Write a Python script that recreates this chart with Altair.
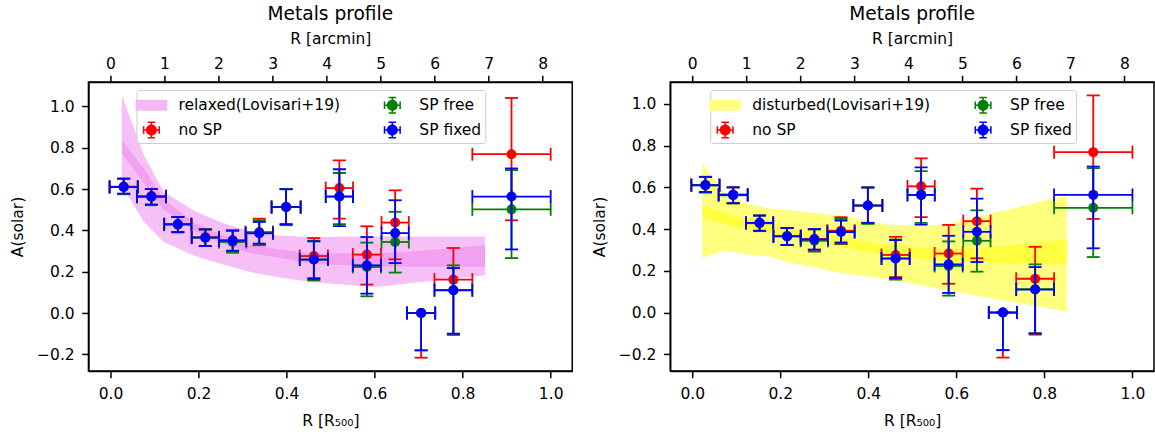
import altair as alt
import pandas as pd

# ---------------- data ----------------
# radial bins in R500 (centre and half-width)
r_mid = [0.030, 0.093, 0.153, 0.2155, 0.2775, 0.338, 0.399, 0.462, 0.520, 0.5825, 0.6467, 0.7057, 0.779, 0.911]
r_err = [0.032, 0.033, 0.031, 0.031, 0.031, 0.031, 0.033, 0.032, 0.031, 0.032, 0.031, 0.032, 0.043, 0.089]

# no SP (red)
nosp_val = [0.612, 0.566, 0.430, 0.367, 0.352, 0.392, 0.513, 0.276, 0.605, 0.283, 0.438, 0.000, 0.162, 0.769]
nosp_lo = [0.577, 0.525, 0.392, 0.324, 0.300, 0.328, 0.430, 0.170, 0.457, 0.138, 0.260, -0.216, -0.106, 0.449]
nosp_hi = [0.650, 0.600, 0.465, 0.405, 0.400, 0.457, 0.600, 0.363, 0.739, 0.420, 0.594, 0.000, 0.315, 1.041]

# SP free (green)
free_val = [0.610, 0.562, 0.428, 0.366, 0.344, 0.387, 0.513, 0.259, 0.564, 0.223, 0.344, 0.000, 0.112, 0.502]
free_lo = [0.575, 0.522, 0.390, 0.324, 0.292, 0.330, 0.425, 0.158, 0.430, 0.081, 0.196, -0.181, -0.100, 0.266]
free_hi = [0.650, 0.600, 0.465, 0.405, 0.398, 0.449, 0.600, 0.350, 0.678, 0.341, 0.490, 0.000, 0.231, 0.692]

# SP fixed (blue)
fix_val = [0.610, 0.564, 0.430, 0.365, 0.351, 0.386, 0.513, 0.259, 0.564, 0.231, 0.387, 0.000, 0.110, 0.564]
fix_lo = [0.578, 0.525, 0.392, 0.324, 0.302, 0.336, 0.430, 0.165, 0.421, 0.094, 0.242, -0.180, -0.100, 0.308]
fix_hi = [0.651, 0.600, 0.465, 0.405, 0.400, 0.441, 0.599, 0.347, 0.696, 0.368, 0.546, 0.000, 0.218, 0.700]

# relaxed (Lovisari+19) band
rel_x = [0.026, 0.076, 0.121, 0.189, 0.250, 0.318, 0.378, 0.454, 0.600, 0.700, 0.851]
rel_out_hi = [1.054, 0.764, 0.586, 0.497, 0.440, 0.395, 0.376, 0.368, 0.370, 0.371, 0.371]
rel_out_lo = [0.618, 0.441, 0.344, 0.279, 0.239, 0.199, 0.174, 0.150, 0.126, 0.149, 0.183]
rel_in_hi = [0.836, 0.700, 0.550, 0.440, 0.380, 0.330, 0.310, 0.290, 0.290, 0.300, 0.328]
rel_in_lo = [0.770, 0.630, 0.500, 0.400, 0.340, 0.290, 0.270, 0.240, 0.225, 0.224, 0.223]

# disturbed (Lovisari+19) band
dis_x = [0.0227, 0.0717, 0.125, 0.170, 0.223, 0.336, 0.450, 0.571, 0.662, 0.851]
dis_out_hi = [0.715, 0.578, 0.522, 0.500, 0.489, 0.465, 0.420, 0.420, 0.465, 0.562]
dis_out_lo = [0.263, 0.296, 0.280, 0.271, 0.239, 0.191, 0.158, 0.110, 0.075, 0.005]
dis_in_hi = [0.513, 0.480, 0.450, 0.430, 0.400, 0.360, 0.320, 0.305, 0.310, 0.349]
dis_in_lo = [0.457, 0.425, 0.400, 0.380, 0.360, 0.315, 0.270, 0.248, 0.240, 0.231]

x_ticks = [0.0, 0.2, 0.4, 0.6, 0.8, 1.0]
y_ticks = [-0.2, 0.0, 0.2, 0.4, 0.6, 0.8, 1.0]
arcmin_ticks = [0, 1, 2, 3, 4, 5, 6, 7, 8]
ARCMIN_PER_R500 = 8.147

# ---------------- style ----------------
FONT = "DejaVu Sans"
XDOM = [-0.05, 1.049]
LW = 1.8
CAP = 13
MS = 100
series_colors = ["#ff0000", "#008000", "#0000ff"]

EB_PATH = ("M0.5,0A0.5,0.5,0,1,1,-0.5,0A0.5,0.5,0,1,1,0.5,0Z"
           "M-0.71,-0.07H0.71V0.07H-0.71Z"
           "M-0.07,-0.71H0.07V0.71H-0.07Z"
           "M-0.78,-0.34H-0.64V0.34H-0.78Z"
           "M0.64,-0.34H0.78V0.34H0.64Z"
           "M-0.34,-0.78H0.34V-0.64H-0.34Z"
           "M-0.34,0.64H0.34V0.78H-0.34Z")
SWATCH_PATH = "M-1.44,-0.5H1.44V0.5H-1.44Z"


def xq(field):
    return alt.X(f"{field}:Q", scale=alt.Scale(domain=XDOM, nice=False, zero=False),
                 axis=alt.Axis(values=x_ticks, format=".1f", title="R [R₅₀₀]", grid=False))


def yq(field, ydom):
    return alt.Y(f"{field}:Q", scale=alt.Scale(domain=ydom, nice=False, zero=False),
                 axis=alt.Axis(values=y_ticks, format=".1f", title="A(solar)", grid=False))


def series_df(vals, lo, hi):
    return pd.DataFrame({
        "x": r_mid,
        "xlo": [m - e for m, e in zip(r_mid, r_err)],
        "xhi": [m + e for m, e in zip(r_mid, r_err)],
        "y": vals, "ylo": lo, "yhi": hi,
    })


all_series = [
    series_df(nosp_val, nosp_lo, nosp_hi),
    series_df(free_val, free_lo, free_hi),
    series_df(fix_val, fix_lo, fix_hi),
]


def panel(bx, olo, ohi, ilo, ihi, band_label, band_color, swatch_color, ydom, legend_x):
    bdf = pd.DataFrame({"x": bx, "olo": olo, "ohi": ohi, "ilo": ilo, "ihi": ihi})
    layers = [
        alt.Chart(bdf).mark_area(color=band_color, opacity=0.5).encode(
            x=xq("x"), y=yq("olo", ydom), y2="ohi"),
        alt.Chart(bdf).mark_area(color=band_color, opacity=0.5).encode(
            x=xq("x"), y=yq("ilo", ydom), y2="ihi"),
    ]
    for df, col in zip(all_series, series_colors):
        base = alt.Chart(df)
        layers += [
            base.mark_rule(color=col, strokeWidth=LW).encode(x=xq("x"), y=yq("ylo", ydom), y2="yhi"),
            base.mark_rule(color=col, strokeWidth=LW).encode(x=xq("xlo"), x2="xhi", y=yq("y", ydom)),
            base.mark_tick(color=col, orient="horizontal", size=CAP, thickness=LW, opacity=1).encode(
                x=xq("x"), y=yq("ylo", ydom)),
            base.mark_tick(color=col, orient="horizontal", size=CAP, thickness=LW, opacity=1).encode(
                x=xq("x"), y=yq("yhi", ydom)),
            base.mark_tick(color=col, orient="vertical", size=CAP, thickness=LW, opacity=1).encode(
                x=xq("xlo"), y=yq("y", ydom)),
            base.mark_tick(color=col, orient="vertical", size=CAP, thickness=LW, opacity=1).encode(
                x=xq("xhi"), y=yq("y", ydom)),
            base.mark_circle(color=col, size=MS, opacity=1).encode(x=xq("x"), y=yq("y", ydom)),
        ]
    main = alt.layer(*layers)

    top_df = pd.DataFrame({"arcmin": arcmin_ticks})
    top = alt.Chart(top_df).mark_point(opacity=0).encode(
        x=alt.X("arcmin:Q",
                scale=alt.Scale(domain=[XDOM[0] * ARCMIN_PER_R500, XDOM[1] * ARCMIN_PER_R500],
                                nice=False, zero=False),
                axis=alt.Axis(orient="top", values=arcmin_ticks, format="d",
                              title="R [arcmin]", grid=False,
                              labelPadding=3.7, titlePadding=10)))

    order = [band_label, "no SP", "SP free", "SP fixed"]
    colors = [swatch_color, "#ff0000", "#008000", "#0000ff"]
    shapes = [SWATCH_PATH, EB_PATH, EB_PATH, EB_PATH]
    leg_df = pd.DataFrame({"series": order})
    lg = alt.Legend(title="", orient="none", legendX=legend_x, legendY=8, columns=2,
                    columnPadding=41, rowPadding=5, padding=4, labelOffset=16,
                    symbolSize=484, symbolStrokeWidth=0, symbolOpacity=1,
                    labelFont=FONT, labelFontSize=15.5, labelColor="black", labelLimit=400,
                    fillColor="rgba(255,255,255,0.8)", strokeColor="#cccccc", cornerRadius=3)
    leg = alt.Chart(leg_df).mark_point(filled=True, opacity=0).encode(
        color=alt.Color("series:N", scale=alt.Scale(domain=order, range=colors), legend=lg),
        shape=alt.Shape("series:N", scale=alt.Scale(domain=order, range=shapes), legend=lg),
    )

    return alt.layer(main, top, leg).resolve_scale(x="independent").properties(
        width=484, height=289,
        title=alt.TitleParams("Metals profile", font=FONT, fontSize=18.6, fontWeight="normal",
                              color="black", anchor="middle", offset=8))


left = panel(rel_x, rel_out_lo, rel_out_hi, rel_in_lo, rel_in_hi,
             "relaxed(Lovisari+19)", "violet", "#f4b8f4", [-0.28, 1.118], 48)
right = panel(dis_x, dis_out_lo, dis_out_hi, dis_in_lo, dis_in_hi,
              "disturbed(Lovisari+19)", "yellow", "#ffff80", [-0.28, 1.105], 40)

chart = alt.hconcat(left, right, spacing=18).resolve_scale(
    color="independent", shape="independent"
).properties(
    padding={"left": 9.5, "top": 4, "right": 0, "bottom": 0}
).configure_view(
    stroke="black", strokeWidth=1.5
).configure_axis(
    labelFont=FONT, labelFontSize=15.5, titleFont=FONT, titleFontSize=15.5,
    titleFontWeight="normal", labelColor="black", titleColor="black",
    tickColor="black", domainColor="black", tickSize=6.8, tickWidth=1.5,
    domainWidth=1.5
).configure_axisLeft(
    labelPadding=7.5, titlePadding=11
).configure_axisBottom(
    labelPadding=9, titlePadding=11
)

chart.save("out.html", embed_options={"renderer": "svg", "actions": False})
